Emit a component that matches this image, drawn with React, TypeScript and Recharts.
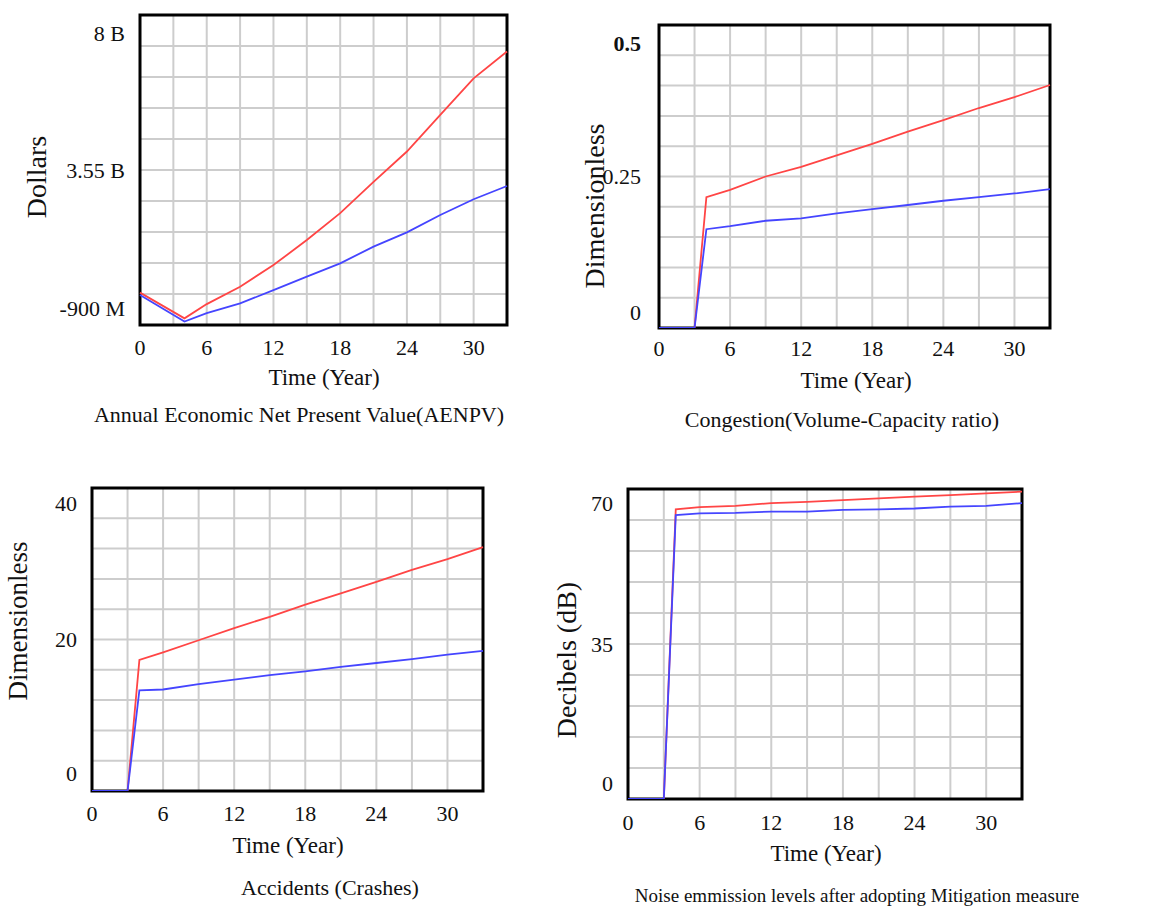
import React from 'react'
import { LineChart, Line, XAxis, YAxis, CartesianGrid, ReferenceArea } from 'recharts'

const FONT = '"Liberation Serif", "DejaVu Serif", serif'
const RED = '#ff4545'
const BLUE = '#4545ff'

// time axis
const timeTicks = [0, 3, 6, 9, 12, 15, 18, 21, 24, 27, 30, 33]
const timeLabels = [0, 6, 12, 18, 24, 30]

// AENPV, billions of dollars
const aenpvYears = [0, 4, 6, 9, 12, 15, 18, 21, 24, 27, 30, 33]
const aenpvRed = [0.03, -0.71, -0.3, 0.2, 0.82, 1.54, 2.31, 3.21, 4.08, 5.13, 6.18, 6.95]
const aenpvBlue = [-0.04, -0.8, -0.56, -0.28, 0.1, 0.49, 0.87, 1.35, 1.76, 2.26, 2.71, 3.09]
const aenpvTicks = [-0.9, -0.01, 0.88, 1.77, 2.66, 3.55, 4.44, 5.33, 6.22, 7.11, 8]
const aenpvTickLabels = ['-900 M', '3.55 B', '8 B']

// the other three start at year 3
const stepYears = [0, 3, 4, 6, 9, 12, 15, 18, 21, 24, 27, 30, 33]

const congestionRed = [0, 0, 0.216, 0.228, 0.25, 0.266, 0.285, 0.304, 0.324, 0.343, 0.363, 0.381, 0.401]
const congestionBlue = [0, 0, 0.163, 0.168, 0.177, 0.181, 0.189, 0.196, 0.203, 0.21, 0.216, 0.222, 0.229]
const congestionTicks = [0, 0.05, 0.1, 0.15, 0.2, 0.25, 0.3, 0.35, 0.4, 0.45, 0.5]
const congestionTickLabels = ['0', '0.25', '0.5']

const accidentsRed = [0, 0, 17.3, 18.3, 19.9, 21.5, 23.0, 24.6, 26.1, 27.6, 29.2, 30.6, 32.2]
const accidentsBlue = [0, 0, 13.3, 13.4, 14.1, 14.7, 15.3, 15.8, 16.4, 16.9, 17.4, 18.0, 18.5]
const accidentsTicks = [0, 4, 8, 12, 16, 20, 24, 28, 32, 36, 40]
const accidentsTickLabels = ['0', '20', '40']

const noiseRed = [0, 0, 65.4, 65.9, 66.2, 66.8, 67.1, 67.5, 67.9, 68.3, 68.6, 69.0, 69.4]
const noiseBlue = [0, 0, 64.1, 64.5, 64.6, 64.9, 64.9, 65.3, 65.4, 65.6, 66.0, 66.2, 66.8]
const noiseTicks = [0, 7, 14, 21, 28, 35, 42, 49, 56, 63, 70]
const noiseTickLabels = ['0', '35', '70']

const build = (years: number[], red: number[], blue: number[]) =>
	years.map((t, i) => ({ t, red: red[i], blue: blue[i] }))

function Panel(props: any) {
	const { left, top, width, height, margin, yWidth, xHeight, data, yTicks, yLabels,
		xMargin, yMargin, topShift, bottomShift, boldTop } = props
	const yMin = yTicks[0]
	const yMax = yTicks[yTicks.length - 1]

	const renderY = ({ x, y, index }: any) => {
		let label = ''
		let dy = 0
		if (index === 0) { label = yLabels[0]; dy = -bottomShift }
		else if (index === 5) label = yLabels[1]
		else if (index === 10) { label = yLabels[2]; dy = topShift }
		if (!label) return <g />
		return (
			<text x={x} y={y + dy} textAnchor="end" dominantBaseline="central" fill="#111"
				fontSize={22} fontFamily={FONT} fontWeight={boldTop && index === 10 ? 'bold' : 'normal'}>
				{label}
			</text>
		)
	}

	const renderX = ({ x, y, payload }: any) => {
		if (!timeLabels.includes(payload.value)) return <g />
		return (
			<text x={x} y={y} textAnchor="middle" dominantBaseline="central" fill="#111" fontSize={22} fontFamily={FONT}>
				{payload.value}
			</text>
		)
	}

	return (
		<div style={{ position: 'absolute', left, top }}>
			<LineChart width={width} height={height} data={data} margin={margin}>
				<CartesianGrid stroke="#cdcdcd" strokeWidth={2} />
				<XAxis dataKey="t" type="number" domain={[0, 33]} ticks={timeTicks} interval={0}
					axisLine={false} tickLine={false} tickSize={0} tickMargin={xMargin} height={xHeight} tick={renderX} />
				<YAxis type="number" domain={[yMin, yMax]} ticks={yTicks} interval={0} allowDataOverflow
					axisLine={false} tickLine={false} tickSize={0} tickMargin={yMargin} width={yWidth} tick={renderY} />
				<ReferenceArea x1={0} x2={33} y1={yMin} y2={yMax} fill="none" fillOpacity={0} stroke="#000" strokeWidth={3} />
				<Line type="linear" dataKey="red" stroke={RED} strokeWidth={1.8} dot={false} isAnimationActive={false} />
				<Line type="linear" dataKey="blue" stroke={BLUE} strokeWidth={1.8} dot={false} isAnimationActive={false} />
			</LineChart>
		</div>
	)
}

function Text({ x, y, size, rotate, children }: any) {
	return (
		<div style={{
			position: 'absolute', left: x, top: y, whiteSpace: 'nowrap', fontFamily: FONT, fontSize: size, color: '#111',
			transform: `translate(-50%, -50%)${rotate ? ' rotate(-90deg)' : ''}`, lineHeight: 1,
		}}>
			{children}
		</div>
	)
}

export default function App() {
	return (
		<div style={{ position: 'absolute', left: 0, top: 0, width: 1169, height: 907, background: '#fff', overflow: 'hidden' }}>
			<Panel left={0} top={0} width={520} height={380} margin={{ top: 15, right: 13, left: 0, bottom: 20 }}
				yWidth={140} xHeight={35} xMargin={22} yMargin={15} topShift={18} bottomShift={17}
				data={build(aenpvYears, aenpvRed, aenpvBlue)} yTicks={aenpvTicks} yLabels={aenpvTickLabels} />
			<Panel left={580} top={0} width={480} height={380} margin={{ top: 25, right: 10, left: 0, bottom: 20 }}
				yWidth={79} xHeight={32} xMargin={20} yMargin={18} topShift={18} bottomShift={16} boldTop
				data={build(stepYears, congestionRed, congestionBlue)} yTicks={congestionTicks} yLabels={congestionTickLabels} />
			<Panel left={0} top={460} width={500} height={380} margin={{ top: 28, right: 17, left: 0, bottom: 20 }}
				yWidth={92} xHeight={29} xMargin={22} yMargin={15} topShift={15} bottomShift={18}
				data={build(stepYears, accidentsRed, accidentsBlue)} yTicks={accidentsTicks} yLabels={accidentsTickLabels} />
			<Panel left={560} top={460} width={480} height={390} margin={{ top: 29, right: 18, left: 0, bottom: 20 }}
				yWidth={68} xHeight={31} xMargin={23} yMargin={15} topShift={14} bottomShift={16}
				data={build(stepYears, noiseRed, noiseBlue)} yTicks={noiseTicks} yLabels={noiseTickLabels} />

			<Text x={37} y={177} size={28} rotate>Dollars</Text>
			<Text x={324} y={377} size={23}>Time (Year)</Text>
			<Text x={299} y={415} size={22}>Annual Economic Net Present Value(AENPV)</Text>

			<Text x={595} y={206} size={28} rotate>Dimensionless</Text>
			<Text x={856} y={380} size={23}>Time (Year)</Text>
			<Text x={842} y={420} size={22}>Congestion(Volume-Capacity ratio)</Text>

			<Text x={18} y={621} size={27} rotate>Dimensionless</Text>
			<Text x={288} y={845} size={23}>Time (Year)</Text>
			<Text x={330} y={888} size={22}>Accidents (Crashes)</Text>

			<Text x={567} y={660} size={28} rotate>Decibels (dB)</Text>
			<Text x={826} y={853} size={23}>Time (Year)</Text>
			<Text x={857} y={895} size={19}>Noise emmission levels after adopting Mitigation measure</Text>
		</div>
	)
}
